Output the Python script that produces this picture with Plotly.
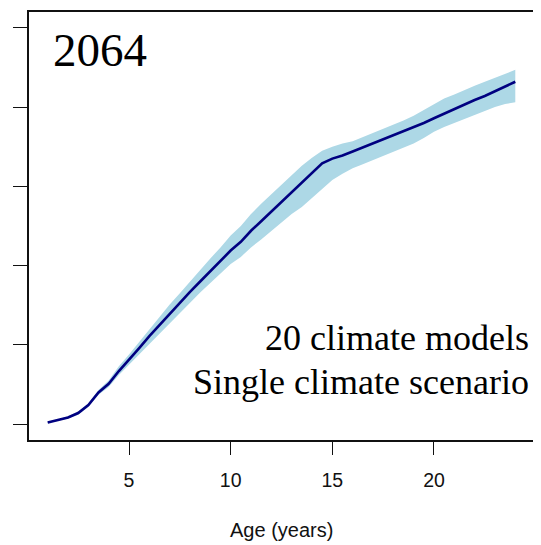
import plotly.graph_objects as go

age = [1, 1.5, 2, 2.5, 3, 3.5, 4, 4.5, 5, 5.5, 6, 6.5, 7, 7.5, 8, 8.5, 9, 9.5,
       10, 10.5, 11, 11.5, 12, 12.5, 13, 13.5, 14, 14.5, 15, 15.5, 16, 16.5,
       17, 17.5, 18, 18.5, 19, 19.5, 20, 20.5, 21, 21.5, 22, 22.5, 23, 23.5, 24]

mean_vals = [0.2, 0.5, 0.85, 1.4, 2.4, 4.0, 5.1, 6.7, 8.1, 9.6, 11.1, 12.5, 14.0,
             15.3, 16.7, 18.0, 19.3, 20.6, 21.9, 23.0, 24.4, 25.6, 26.8, 28.0,
             29.3, 30.4, 31.6, 32.9, 33.5, 33.9, 34.4, 34.9, 35.4, 35.9, 36.4,
             36.9, 37.4, 38.0, 38.6, 39.2, 39.7, 40.3, 40.9, 41.4, 42.0, 42.6, 43.2]

upper_vals = [0.3, 0.6, 1.0, 1.6, 2.6, 4.3, 5.5, 7.3, 8.8, 10.4, 12.0, 13.5, 15.1,
              16.5, 18.0, 19.4, 20.9, 22.3, 23.8, 25.0, 26.5, 27.8, 29.0, 30.2,
              31.5, 32.6, 33.6, 34.5, 35.0, 35.4, 35.7, 36.2, 36.7, 37.2, 37.7,
              38.3, 38.9, 39.6, 40.4, 41.1, 41.6, 42.2, 42.7, 43.2, 43.7, 44.2, 44.7]

lower_vals = [0.1, 0.4, 0.7, 1.2, 2.2, 3.7, 4.7, 6.2, 7.5, 8.9, 10.2, 11.4, 12.8,
              14.0, 15.4, 16.6, 17.8, 19.0, 20.2, 21.1, 22.3, 23.3, 24.4, 25.4,
              26.5, 27.4, 28.5, 29.6, 30.8, 31.6, 32.3, 32.8, 33.3, 33.8, 34.3,
              34.8, 35.4, 36.1, 36.9, 37.5, 38.0, 38.5, 39.0, 39.5, 40.0, 40.4, 40.6]

x_ticks = [5, 10, 15, 20]
y_ticks = [0, 10, 20, 30, 40, 50]

title_text = "2064"
note_line1 = "20 climate models"
note_line2 = "Single climate scenario"
x_label = "Age (years)"

fig = go.Figure()
fig.add_trace(go.Scatter(x=age, y=lower_vals, mode="lines", line=dict(width=0),
                         showlegend=False, hoverinfo="skip"))
fig.add_trace(go.Scatter(x=age, y=upper_vals, mode="lines", line=dict(width=0),
                         fill="tonexty", fillcolor="#ADD8E6", showlegend=False,
                         hoverinfo="skip"))
fig.add_trace(go.Scatter(x=age, y=mean_vals, mode="lines",
                         line=dict(color="#000080", width=2.6), showlegend=False))

fig.update_layout(
    width=533, height=537,
    margin=dict(l=21, r=7, t=4, b=105, autoexpand=False),
    paper_bgcolor="white", plot_bgcolor="white",
    xaxis=dict(range=[0.08, 24.92], tickvals=x_ticks, ticks="outside", ticklen=13,
               tickwidth=1.3, tickcolor="#111", showline=True, linecolor="#111",
               linewidth=1.5, mirror=True, showgrid=False, zeroline=False,
               ticklabelstandoff=9, automargin=False,
               tickfont=dict(family="Liberation Sans", size=19.5, color="#111")),
    yaxis=dict(range=[-2, 52], tickvals=y_ticks, ticks="outside", ticklen=14,
               tickwidth=1.3, tickcolor="#111", showline=True, linecolor="#111",
               linewidth=1.5, mirror=True, showgrid=False, zeroline=False,
               showticklabels=False, automargin=False),
    annotations=[
        dict(text=title_text, xref="paper", yref="paper", x=0.0436, y=0.911,
             xanchor="left", yanchor="middle", showarrow=False,
             font=dict(family="Liberation Serif", size=47, color="black")),
        dict(text=note_line1, xref="paper", yref="paper", x=0.994, y=0.238,
             xanchor="right", yanchor="middle", showarrow=False,
             font=dict(family="Liberation Serif", size=36, color="black")),
        dict(text=note_line2, xref="paper", yref="paper", x=0.994, y=0.135,
             xanchor="right", yanchor="middle", showarrow=False,
             font=dict(family="Liberation Serif", size=36, color="black")),
        dict(text=x_label, xref="paper", yref="paper", x=0.5, y=-0.21,
             xanchor="center", yanchor="middle", showarrow=False,
             font=dict(family="Liberation Sans", size=20, color="#111")),
    ],
)

fig.write_html("out.html")
